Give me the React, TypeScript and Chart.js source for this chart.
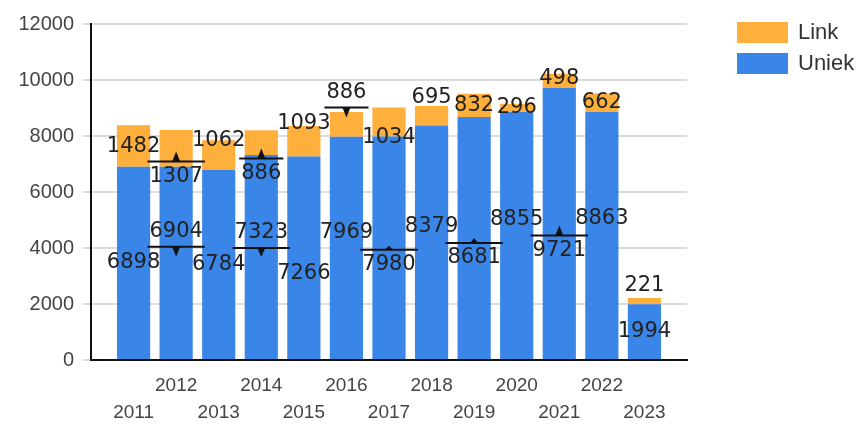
import React, { useEffect, useRef } from 'react';
import { Chart, registerables } from 'chart.js';

Chart.register(...registerables);

const years = ['2011', '2012', '2013', '2014', '2015', '2016', '2017', '2018', '2019', '2020', '2021', '2022', '2023'];
const uniek = [6898, 6904, 6784, 7323, 7266, 7969, 7980, 8379, 8681, 8855, 9721, 8863, 1994];
const link = [1482, 1307, 1062, 886, 1093, 886, 1034, 695, 832, 296, 498, 662, 221];
const yTicks = [0, 2000, 4000, 6000, 8000, 10000, 12000];

// label placement nudges (pixels, + = down) and which labels get a leader mark
const linkLabelShift = [0, 28, -15, 31, -18, -32, 15, -18, 0, 0, -2, 0, -16];
const uniekLabelShift = [0, -31, 0, -24, 16, -15, 17, -16, 20, -16, 27, -17, 0];
const linkLeader = [false, true, false, true, false, true, false, false, false, false, false, false, false];
const uniekLeader = [false, true, false, true, false, false, true, false, true, false, true, false, false];

const ORANGE = '#FFAF3C';
const BLUE = '#3A86E8';
const TICK_FONT = '"Liberation Sans", Arial, sans-serif';

const segLabels = {
  id: 'segLabels',
  afterDatasetsDraw(chart: any) {
    const ctx = chart.ctx;
    ctx.save();
    ctx.font = '21px "DejaVu Sans"';
    ctx.textAlign = 'center';
    ctx.textBaseline = 'middle';
    const specs = [
      { ds: 0, values: uniek, shift: uniekLabelShift, leader: uniekLeader },
      { ds: 1, values: link, shift: linkLabelShift, leader: linkLeader },
    ];
    specs.forEach((spec) => {
      const meta = chart.getDatasetMeta(spec.ds);
      spec.values.forEach((v, i) => {
        const el = meta.data[i + 1];
        if (!el) return;
        const anchor = (el.y + el.base) / 2;
        const ty = anchor + spec.shift[i];
        const txt = String(v);
        if (spec.leader[i]) {
          const w = ctx.measureText(txt).width + 4;
          const dir = spec.shift[i] > 0 ? -1 : 1;
          const ly = ty + dir * 15;
          ctx.strokeStyle = '#111';
          ctx.lineWidth = 2;
          ctx.beginPath();
          ctx.moveTo(el.x - w / 2, ly);
          ctx.lineTo(el.x + w / 2, ly);
          ctx.stroke();
          const h = Math.min(10, Math.max(4, Math.abs(anchor - ly)));
          const tip = ly + (anchor > ly ? h : -h);
          ctx.fillStyle = '#111';
          ctx.beginPath();
          ctx.moveTo(el.x - 4, ly);
          ctx.lineTo(el.x + 4, ly);
          ctx.lineTo(el.x, tip);
          ctx.closePath();
          ctx.fill();
        }
        ctx.fillStyle = '#222';
        ctx.fillText(txt, el.x, ty);
      });
    });
    ctx.restore();
  },
};

const sideLegend = {
  id: 'sideLegend',
  afterDraw(chart: any) {
    const ctx = chart.ctx;
    const ds = [...chart.data.datasets].reverse();
    const x0 = chart.chartArea.right + 50;
    ctx.save();
    ctx.font = '22px ' + TICK_FONT;
    ctx.textAlign = 'left';
    ctx.textBaseline = 'middle';
    ds.forEach((d: any, i: number) => {
      const top = 14 + i * 31;
      ctx.fillStyle = d.backgroundColor;
      ctx.fillRect(x0, top, 51, 21);
      ctx.fillStyle = '#333';
      ctx.fillText(d.label, x0 + 61, top + 11);
    });
    ctx.restore();
  },
};

export default function App() {
  const ref = useRef<HTMLCanvasElement>(null);
  useEffect(() => {
    if (!ref.current) return;
    const labels = ['', ...years, ''];
    const chart = new Chart(ref.current, {
      type: 'bar',
      data: {
        labels,
        datasets: [
          { label: 'Uniek', data: [null, ...uniek, null], backgroundColor: BLUE, barPercentage: 0.78, categoryPercentage: 1 },
          { label: 'Link', data: [null, ...link, null], backgroundColor: ORANGE, barPercentage: 0.78, categoryPercentage: 1 },
        ],
      },
      options: {
        animation: false,
        responsive: true,
        maintainAspectRatio: false,
        layout: { padding: { top: 16, right: 173, left: 0, bottom: 0 } },
        plugins: { legend: { display: false }, tooltip: { enabled: false } },
        scales: {
          x: {
            stacked: true,
            offset: false,
            grid: { display: false, drawTicks: false },
            border: { display: true, color: '#111', width: 2 },
            afterFit: (s: any) => {
              s.height = 66;
              s.paddingLeft = 0;
              s.paddingRight = 0;
            },
            ticks: {
              autoSkip: false,
              maxRotation: 0,
              padding: 12,
              color: '#444',
              font: { family: TICK_FONT, size: 19, lineHeight: 27 / 19 },
              callback: function (this: any, value: any) {
                const lab = this.getLabelForValue(value);
                if (!lab) return '';
                return Number(lab) % 2 === 1 ? ['', lab] : lab;
              },
            },
          },
          y: {
            stacked: true,
            min: 0,
            max: 12000,
            afterBuildTicks: (s: any) => {
              s.ticks = yTicks.map((v) => ({ value: v }));
            },
            afterFit: (s: any) => {
              s.width = 83;
              s.paddingTop = 0;
              s.paddingBottom = 0;
            },
            grid: { color: '#dcdcdc', lineWidth: 2, tickLength: 8, drawTicks: true },
            border: { display: true, color: '#111', width: 2 },
            ticks: {
              padding: 9,
              color: '#444',
              font: { family: TICK_FONT, size: 20 },
              callback: (v: any) => String(v),
            },
          },
        },
      },
      plugins: [segLabels, sideLegend],
    });
    return () => chart.destroy();
  }, []);
  return (
    <div style={{ position: 'relative', width: 852, height: 418, marginBottom: -8 }}>
      <canvas ref={ref} />
    </div>
  );
}
